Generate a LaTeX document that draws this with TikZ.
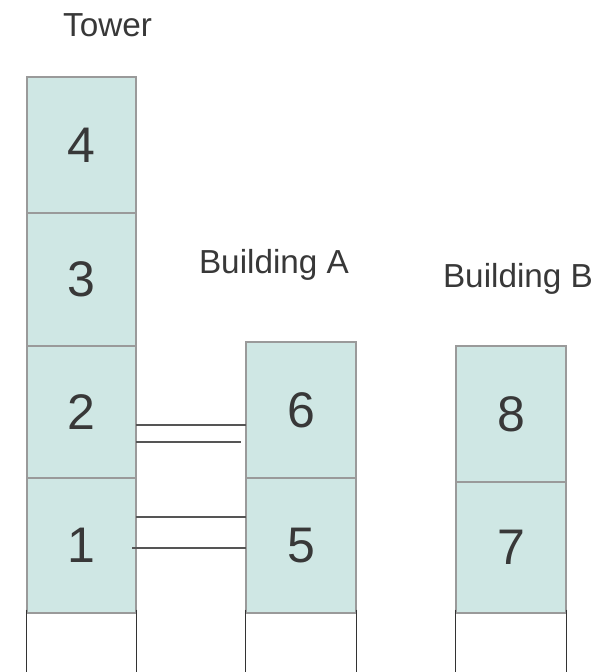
\documentclass[tikz,border=0pt]{standalone}
\usepackage{fontspec}
\setmainfont{Liberation Sans}
\definecolor{boxfill}{HTML}{CFE7E4}
\definecolor{boxline}{HTML}{9A9A9A}
\definecolor{txt}{HTML}{383838}
\definecolor{link}{HTML}{555555}
\begin{document}
\begin{tikzpicture}[x=1pt,y=-1pt,
  floor/.style={draw=boxline,fill=boxfill,line width=1.2pt,rectangle,inner sep=0pt,
    minimum width=109pt,font=\fontsize{50}{50}\selectfont,text=txt},
  label/.style={font=\fontsize{33.3}{33.3}\selectfont,text=txt,anchor=base,inner sep=0pt},
  link/.style={draw=link,line width=1.3pt},
  base/.style={draw=black!80,line width=1.2pt}]
\useasboundingbox (0,0) rectangle (596,672);
% Tower
\node[floor,minimum height=136pt] (t4) at (81.5,145) {4};
\node[floor,minimum height=133pt] (t3) at (81.5,279.5) {3};
\node[floor,minimum height=132pt] (t2) at (81.5,412) {2};
\node[floor,minimum height=135pt] (t1) at (81.5,545.5) {1};
% Building A
\node[floor,minimum height=136pt,minimum width=110pt] (a6) at (301,410) {6};
\node[floor,minimum height=135pt,minimum width=110pt] (a5) at (301,545.5) {5};
% Building B
\node[floor,minimum height=136pt,minimum width=110pt] (b8) at (511,414) {8};
\node[floor,minimum height=131pt,minimum width=110pt] (b7) at (511,547.5) {7};
% labels
\node[label] (lt) at (107.5,36) {Tower};
\node[label] (la) at (274,273) {Building A};
\node[label] (lb) at (518,287) {Building B};
% connectors
\coordinate (c1s) at (136,425); \coordinate (c1e) at (246,425);
\coordinate (c2s) at (136,442); \coordinate (c2e) at (241,442);
\coordinate (c3s) at (136,517); \coordinate (c3e) at (246,517);
\coordinate (c4s) at (132,548); \coordinate (c4e) at (246,548);
\draw[link] (c1s) -- (c1e);
\draw[link] (c2s) -- (c2e);
\draw[link] (c3s) -- (c3e);
\draw[link] (c4s) -- (c4e);
% open ground floors
\draw[base] (t1.south west) ++(0,-4) -- ++(0,70);
\draw[base] (t1.south east) ++(0,-4) -- ++(0,70);
\draw[base] (a5.south west) ++(0,-4) -- ++(0,70);
\draw[base] (a5.south east) ++(0,-4) -- ++(0,70);
\draw[base] (b7.south west) ++(0,-4) -- ++(0,70);
\draw[base] (b7.south east) ++(0,-4) -- ++(0,70);
\end{tikzpicture}
\end{document}
